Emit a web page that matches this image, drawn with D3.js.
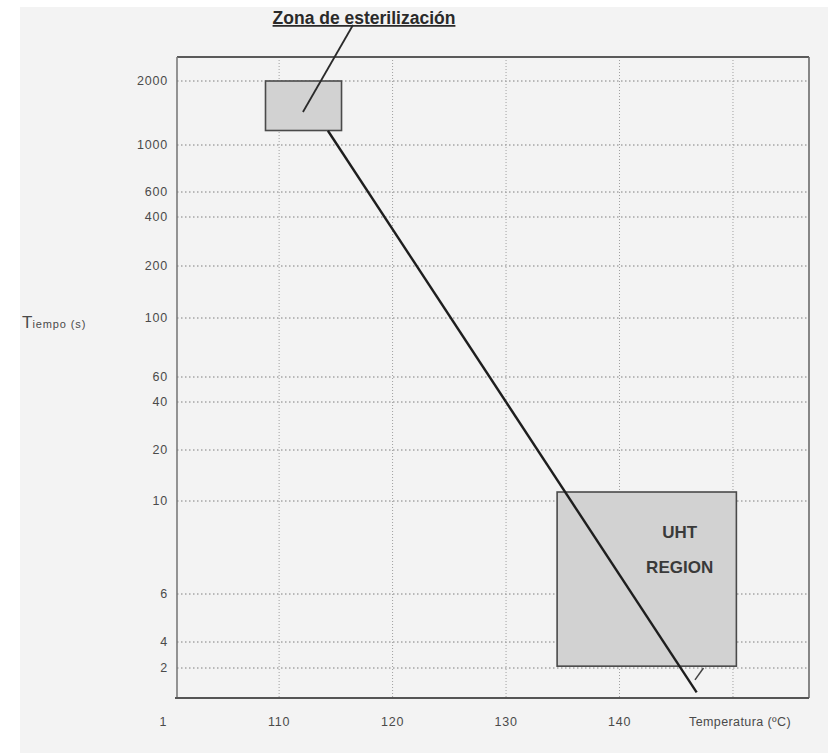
<!DOCTYPE html>
<html>
<head>
<meta charset="utf-8">
<script src="https://cdn.jsdelivr.net/npm/d3@7"></script>
<style>
  html, body { margin: 0; padding: 0; background: #ffffff; }
  svg { display: block; font-family: "Liberation Sans", Arial, sans-serif; }
</style>
</head>
<body>
<svg id="chart" width="828" height="753"></svg>
<script>
// Time axis values (s), top to bottom; 2600 marks the top frame, 1 the origin
const timeTicks = [2000, 1000, 600, 400, 200, 100, 60, 40, 20, 10, 6, 4, 2];
const timeDomain = [2600, 2000, 1000, 600, 400, 200, 100, 60, 40, 20, 10, 6, 4, 2, 1];
// Hand-drawn axis: offset of each time value from the top of the plot
const timeAxisOffsets = [0, 24, 88, 135, 160, 209, 261, 320, 345, 393, 444, 537, 585, 611, 641];

// Temperature axis (ºC)
const tempDomain = [101, 156.7];
const tempTicks = [110, 120, 130, 140];
const tempGrid = [110, 120, 130, 140, 150];

// Sterilization zone and UHT region: [tMin, tMax, timeMin, timeMax]
const sterilZone = [108.8, 115.5, 1170, 2000];
const uhtRegion = [134.5, 150.3, 2.1, 11.3];

// Lethality line: temperature / time pairs
const lineTemp = [114.3, 146.8];
const lineTime = [1167, 1.14];

// Label pointer into the sterilization zone
const pointerTarget = [112.1, 1430];
// Small stroke at the foot of the line
const footTemp = [147.4, 146.65];
const footTime = [2.0, 1.52];

// UHT label anchor: temperature and baseline times of its two lines
const uhtLabelTemp = 145.3;
const uhtLabelTimes = [8.16, 6.73];

const svg = d3.select("#chart");
const margin = { top: 57, left: 177, right: 19, bottom: 55 };
const W = 828, H = 753;
const width = W - margin.left - margin.right;
const height = H - margin.top - margin.bottom;

// scanned paper background
svg.append("rect").attr("x", 20).attr("y", 7).attr("width", W - 20).attr("height", H - 7)
  .attr("fill", "#f3f3f3");

const g = svg.append("g").attr("transform", `translate(${margin.left},${margin.top})`);

const x = d3.scaleLinear().domain(tempDomain).range([0, width]);
const y = d3.scaleLog().domain(timeDomain).range(timeAxisOffsets);

// horizontal dotted gridlines
g.append("g").selectAll("line").data(timeTicks).join("line")
  .attr("x1", 0).attr("x2", width)
  .attr("y1", d => y(d)).attr("y2", d => y(d))
  .attr("stroke", "#7e7e7e").attr("stroke-width", 1)
  .attr("stroke-dasharray", "1.5,2.5");

// vertical dotted gridlines
g.append("g").selectAll("line").data(tempGrid).join("line")
  .attr("x1", d => x(d)).attr("x2", d => x(d))
  .attr("y1", 0).attr("y2", height)
  .attr("stroke", "#a0a0a0").attr("stroke-width", 1)
  .attr("stroke-dasharray", "1,2");

// frame
g.append("line").attr("x1", 0).attr("x2", width).attr("y1", 0).attr("y2", 0)
  .attr("stroke", "#5a5a5a").attr("stroke-width", 2);
g.append("line").attr("x1", width).attr("x2", width).attr("y1", 0).attr("y2", height)
  .attr("stroke", "#6a6a6a").attr("stroke-width", 1.6);
g.append("line").attr("x1", 0).attr("x2", 0).attr("y1", 0).attr("y2", height)
  .attr("stroke", "#7a7a7a").attr("stroke-width", 1.6);
g.append("line").attr("x1", -2).attr("x2", width).attr("y1", height).attr("y2", height)
  .attr("stroke", "#555").attr("stroke-width", 2.2);

// zones
function zone(z) {
  g.append("rect")
    .attr("x", x(z[0])).attr("width", x(z[1]) - x(z[0]))
    .attr("y", y(z[3])).attr("height", y(z[2]) - y(z[3]))
    .attr("fill", "#d2d2d2").attr("stroke", "#4a4a4a").attr("stroke-width", 1.6);
}
zone(sterilZone);
zone(uhtRegion);

// lethality line
g.append("line")
  .attr("x1", x(lineTemp[0])).attr("y1", y(lineTime[0]))
  .attr("x2", x(lineTemp[1])).attr("y2", y(lineTime[1]))
  .attr("stroke", "#1e1e1e").attr("stroke-width", 2.4);

g.append("line")
  .attr("x1", x(footTemp[0])).attr("y1", y(footTime[0]))
  .attr("x2", x(footTemp[1])).attr("y2", y(footTime[1]))
  .attr("stroke", "#444").attr("stroke-width", 1.5);

// UHT label
["UHT", "REGION"].forEach((t, i) => {
  g.append("text").attr("x", x(uhtLabelTemp)).attr("y", y(uhtLabelTimes[i]))
    .attr("text-anchor", "middle").attr("font-size", 17).attr("font-weight", "bold")
    .attr("fill", "#3a3a3a").text(t);
});

// title with pointer
svg.append("text").attr("x", 364).attr("y", 24)
  .attr("text-anchor", "middle").attr("font-size", 17.5).attr("font-weight", "bold")
  .attr("fill", "#2a2a2a").attr("text-decoration", "underline")
  .text("Zona de esterilización");
svg.append("line")
  .attr("x1", margin.left + x(pointerTarget[0])).attr("y1", margin.top + y(pointerTarget[1]))
  .attr("x2", 353).attr("y2", 25)
  .attr("stroke", "#2a2a2a").attr("stroke-width", 1.8);

// y tick labels
g.append("g").selectAll("text").data(timeTicks).join("text")
  .attr("x", -9).attr("y", d => y(d)).attr("dy", "0.35em")
  .attr("text-anchor", "end").attr("font-size", 12.5).attr("letter-spacing", 0.8)
  .attr("fill", "#4a4a4a").text(d => d);

// x tick labels
g.append("g").selectAll("text").data(tempTicks).join("text")
  .attr("x", d => x(d)).attr("y", height + 28)
  .attr("text-anchor", "middle").attr("font-size", 12.5).attr("letter-spacing", 0.8)
  .attr("fill", "#4a4a4a").text(d => d);

// origin label
g.append("text").attr("x", -14).attr("y", height + 28)
  .attr("text-anchor", "middle").attr("font-size", 12.5)
  .attr("fill", "#4a4a4a").text("1");

// axis titles
g.append("text").attr("x", x(150) + 7).attr("y", height + 28)
  .attr("text-anchor", "middle").attr("font-size", 12.5).attr("letter-spacing", 0.4)
  .attr("fill", "#4a4a4a").text("Temperatura  (ºC)");

const yt = svg.append("text").attr("x", 22).attr("y", 328).attr("fill", "#4a4a4a");
yt.append("tspan").attr("font-size", 17).text("T");
yt.append("tspan").attr("font-size", 11).attr("letter-spacing", 0.9).text("iempo (s)");
</script>
</body>
</html>
